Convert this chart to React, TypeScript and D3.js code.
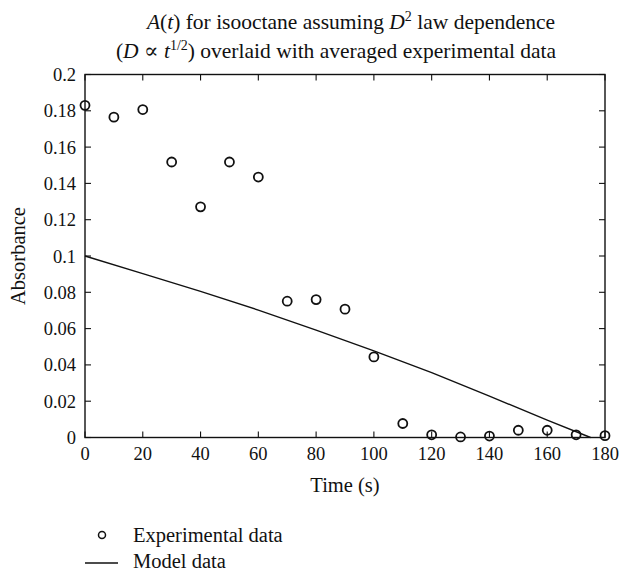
import React from "react";
import * as d3 from "d3";

const expTime = [0, 10, 20, 30, 40, 50, 60, 70, 80, 90, 100, 110, 120, 130, 140, 150, 160, 170, 180];
const expAbs = [0.183, 0.1765, 0.1807, 0.1518, 0.1271, 0.1518, 0.1435, 0.0751, 0.076, 0.0707, 0.0444, 0.0077, 0.0015, 0.0003, 0.0008, 0.004, 0.004, 0.0015, 0.001];

const modelTime = [0, 20, 40, 60, 80, 100, 120, 140, 160, 175];
const modelAbs = [0.1, 0.0903, 0.0805, 0.0702, 0.0592, 0.0477, 0.0357, 0.0228, 0.0096, 0];

const xTicks = [0, 20, 40, 60, 80, 100, 120, 140, 160, 180];
const yTicks = [0, 0.02, 0.04, 0.06, 0.08, 0.1, 0.12, 0.14, 0.16, 0.18, 0.2];

const W = 620;
const H = 571;
const left = 85;
const right = 605;
const top = 74.5;
const bottom = 437.5;
const font = "'Liberation Serif', 'DejaVu Serif', serif";
const ink = "#111";

export default function App() {
  const x = d3.scaleLinear().domain([0, 180]).range([left, right]);
  const y = d3.scaleLinear().domain([0, 0.2]).range([bottom, top]);
  const line = d3
    .line<number>()
    .x((_, i) => x(modelTime[i]))
    .y((d) => y(d));
  const tl = 6;
  const fmt = (v: number) => (v === 0 ? "0" : String(+v.toFixed(2)));
  return (
    <svg
      width={W}
      height={H}
      style={{ position: "absolute", left: 0, top: 0, background: "#fff" }}
      fontFamily={font}
    >
      <rect x={0} y={0} width={W} height={H} fill="#fff" />
      {/* title */}
      <text x={351} y={29} textAnchor="middle" fontSize={21.5} fill={ink}>
        <tspan fontStyle="italic">A</tspan>(<tspan fontStyle="italic">t</tspan>) for isooctane assuming{" "}
        <tspan fontStyle="italic">D</tspan>
        <tspan fontSize={14} dy={-8}>2</tspan>
        <tspan dy={8}> law dependence</tspan>
      </text>
      <text x={336} y={58} textAnchor="middle" fontSize={21.5} fill={ink}>
        (<tspan fontStyle="italic">D</tspan> ∝ <tspan fontStyle="italic">t</tspan>
        <tspan fontSize={14} dy={-8}>1/2</tspan>
        <tspan dy={8}>) overlaid with averaged experimental data</tspan>
      </text>
      {/* frame */}
      <rect x={left} y={top} width={right - left} height={bottom - top} fill="none" stroke={ink} strokeWidth={1.4} />
      {/* x ticks */}
      {xTicks.map((t) => (
        <g key={"x" + t}>
          <line x1={x(t)} x2={x(t)} y1={bottom} y2={bottom - tl} stroke={ink} strokeWidth={1.1} />
          <line x1={x(t)} x2={x(t)} y1={top} y2={top + tl} stroke={ink} strokeWidth={1.1} />
          <text x={x(t)} y={460} textAnchor="middle" fontSize={18.5} fill={ink}>
            {t}
          </text>
        </g>
      ))}
      {/* y ticks */}
      {yTicks.map((t) => (
        <g key={"y" + t}>
          <line x1={left} x2={left + tl} y1={y(t)} y2={y(t)} stroke={ink} strokeWidth={1.1} />
          <line x1={right} x2={right - tl} y1={y(t)} y2={y(t)} stroke={ink} strokeWidth={1.1} />
          <text x={76} y={y(t) + 6.5} textAnchor="end" fontSize={18.5} fill={ink}>
            {fmt(t)}
          </text>
        </g>
      ))}
      {/* axis labels */}
      <text x={345} y={492} textAnchor="middle" fontSize={20.5} fill={ink}>
        Time (s)
      </text>
      <text
        transform={`translate(25, ${(top + bottom) / 2}) rotate(-90)`}
        textAnchor="middle"
        fontSize={20.5}
        fill={ink}
      >
        Absorbance
      </text>
      {/* model line */}
      <path d={line(modelAbs) || ""} fill="none" stroke={ink} strokeWidth={1.4} strokeLinejoin="round" />
      {/* experimental points */}
      {expAbs.map((v, i) => (
        <circle key={"p" + i} cx={x(expTime[i])} cy={y(v)} r={4.5} fill="none" stroke={ink} strokeWidth={1.8} />
      ))}
      {/* legend */}
      <circle cx={102} cy={535} r={3.5} fill="none" stroke={ink} strokeWidth={1.5} />
      <text x={133} y={542} fontSize={20.5} fill={ink}>
        Experimental data
      </text>
      <line x1={85} x2={118} y1={563} y2={563} stroke={ink} strokeWidth={1.4} />
      <text x={133} y={568} fontSize={20.5} fill={ink}>
        Model data
      </text>
    </svg>
  );
}
